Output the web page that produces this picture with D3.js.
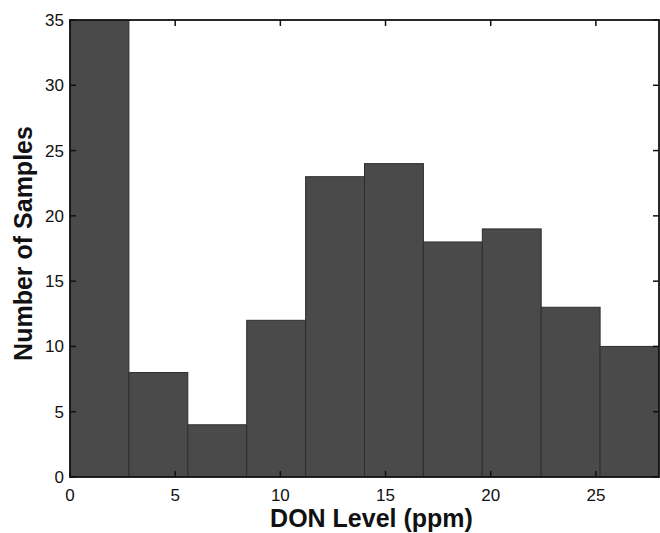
<!DOCTYPE html>
<meta charset="utf-8">
<head>
    <title>DON Level histogram</title>
    <script src="https://d3js.org/d3.v7.min.js"></script>
    <style>
        html, body { margin: 0; background: #fff; }
        text { font-family: "Liberation Sans", Arial, sans-serif; fill: #111; }
        .tick-label { font-size: 17px; }
        .axis-title { font-size: 25px; font-weight: bold; }
    </style>
</head>
<body>
<svg width="660" height="533"></svg>
<script>
// bin edges (ppm) and counts
var binEdges = [0, 2.8, 5.6, 8.4, 11.2, 14, 16.8, 19.6, 22.4, 25.2, 28];
var counts = [35, 8, 4, 12, 23, 24, 18, 19, 13, 10];
var xTicks = [0, 5, 10, 15, 20, 25];
var yTicks = [0, 5, 10, 15, 20, 25, 30, 35];

var svg = d3.select("svg"),
    margin = {top: 20, right: 1, bottom: 56, left: 70},
    width = +svg.attr("width") - margin.left - margin.right,
    height = +svg.attr("height") - margin.top - margin.bottom;

var x = d3.scaleLinear().domain([0, 28]).range([0, width]);
var y = d3.scaleLinear().domain([0, 35]).range([height, 0]);

var g = svg.append("g")
    .attr("transform", "translate(" + margin.left + "," + margin.top + ")");

g.append("clipPath").attr("id", "clip")
    .append("rect").attr("width", width).attr("height", height);

var bins = counts.map((c, i) => ({x0: binEdges[i], x1: binEdges[i + 1], n: c}));

g.append("g").attr("clip-path", "url(#clip)")
    .selectAll("rect")
    .data(bins)
    .join("rect")
    .attr("x", d => x(d.x0))
    .attr("y", d => y(d.n))
    .attr("width", d => x(d.x1) - x(d.x0))
    .attr("height", d => y(0) - y(d.n))
    .attr("fill", "#4a4a4a")
    .attr("stroke", "#2e2e2e")
    .attr("stroke-width", 1);

// inward ticks on all four sides
var tl = 6;
var ticks = g.append("g").attr("stroke", "#111").attr("stroke-width", 1.5);
xTicks.forEach(function(v) {
    ticks.append("line").attr("x1", x(v)).attr("x2", x(v)).attr("y1", height).attr("y2", height - tl);
    ticks.append("line").attr("x1", x(v)).attr("x2", x(v)).attr("y1", 0).attr("y2", tl);
});
yTicks.forEach(function(v) {
    ticks.append("line").attr("x1", 0).attr("x2", tl).attr("y1", y(v)).attr("y2", y(v));
    ticks.append("line").attr("x1", width).attr("x2", width - tl).attr("y1", y(v)).attr("y2", y(v));
});

g.append("rect")
    .attr("width", width).attr("height", height)
    .attr("fill", "none").attr("stroke", "#111").attr("stroke-width", 1.8);

g.selectAll(".xl").data(xTicks).join("text")
    .attr("class", "tick-label")
    .attr("x", d => x(d)).attr("y", height + 24)
    .attr("text-anchor", "middle")
    .text(d => d);

g.selectAll(".yl").data(yTicks).join("text")
    .attr("class", "tick-label")
    .attr("x", -6).attr("y", d => y(d) + 6)
    .attr("text-anchor", "end")
    .text(d => d);

g.append("text").attr("class", "axis-title")
    .attr("x", width / 2 + 7).attr("y", height + 50)
    .attr("text-anchor", "middle")
    .text("DON Level (ppm)");

g.append("text").attr("class", "axis-title")
    .attr("transform", "translate(-38," + (height / 2 - 5) + ") rotate(-90)")
    .attr("text-anchor", "middle")
    .text("Number of Samples");
</script>
</body>
</html>
